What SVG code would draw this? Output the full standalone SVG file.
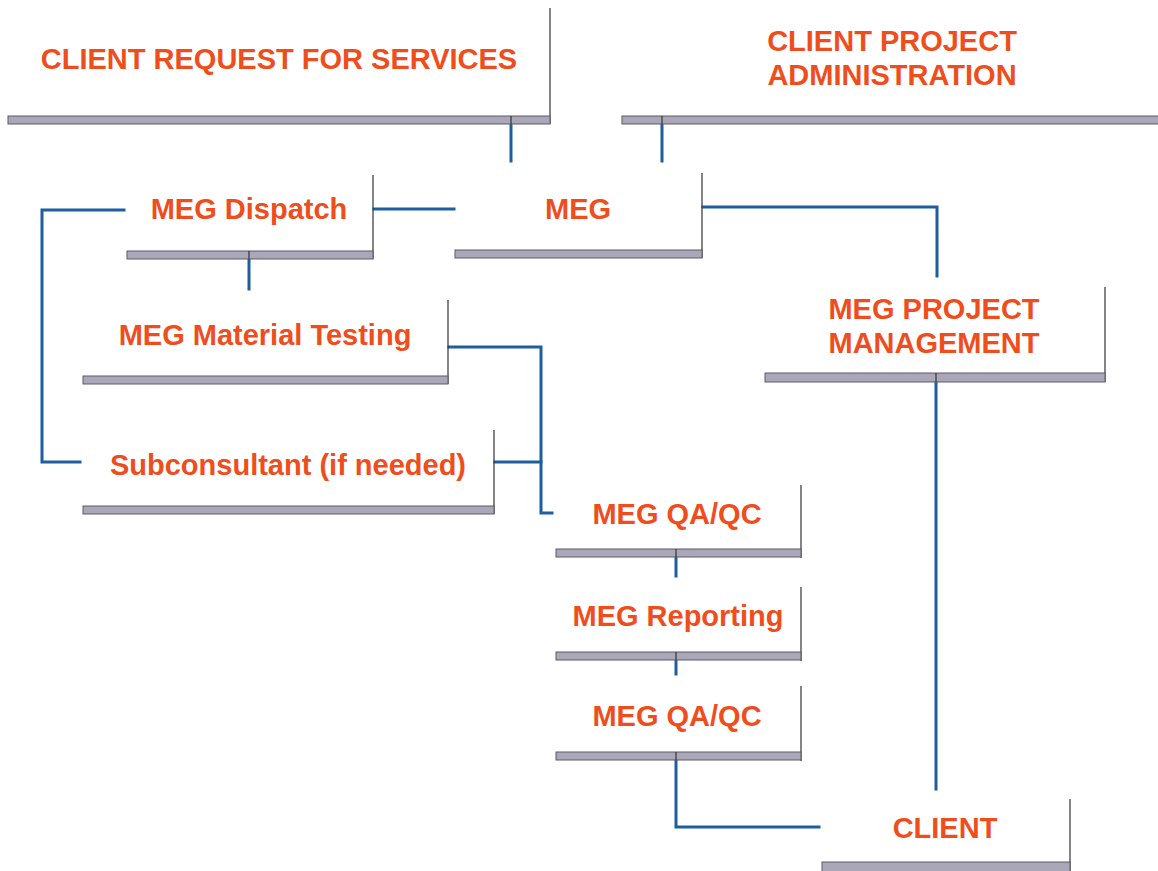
<svg xmlns="http://www.w3.org/2000/svg" width="1158" height="871" viewBox="0 0 1158 871">
<style>
.bg{fill:#ffffff}
.bar{fill:#aaa8b8;stroke:#5a5a66;stroke-width:1}
.edge{stroke:#333333;stroke-width:1.2;fill:none}
.lbl{font-family:"Liberation Sans",Arial,sans-serif;font-weight:bold;font-size:29px;fill:#f04d1c;text-anchor:middle}
.conn{stroke:#1d5f9e;stroke-width:3;fill:none;stroke-linecap:square;stroke-linejoin:miter}
</style>
<rect class="bg" x="0" y="0" width="1158" height="871"/>
<g id="connectors">
<path class="conn" d="M511,125 V161"/>
<path class="conn" d="M662,125 V161"/>
<path class="conn" d="M374,209 H454"/>
<path class="conn" d="M703,207 H937 V276"/>
<path class="conn" d="M124,210 H42 V462 H80"/>
<path class="conn" d="M249,259 V289"/>
<path class="conn" d="M449,347 H541 V513 H552"/>
<path class="conn" d="M495,462 H541"/>
<path class="conn" d="M676,558 V576"/>
<path class="conn" d="M676,661 V674"/>
<path class="conn" d="M676,761 V827 H819"/>
<path class="conn" d="M936,383 V789"/>
</g>
<g id="node-client-request">
<path class="edge" d="M550,8 V124"/>
<rect class="bar" x="8" y="116" width="542" height="8"/>
<path class="edge" d="M511,116 V124" stroke-width="2"/>
<text class="lbl" x="279" y="69">CLIENT REQUEST FOR SERVICES</text>
</g>
<g id="node-client-admin">
<rect class="bar" x="622" y="116" width="540" height="8"/>
<path class="edge" d="M662,116 V124" stroke-width="2"/>
<text class="lbl" x="892" y="51">CLIENT PROJECT</text>
<text class="lbl" x="892" y="85">ADMINISTRATION</text>
</g>
<g id="node-dispatch">
<path class="edge" d="M373,175 V259"/>
<rect class="bar" x="127" y="251" width="246" height="8"/>
<path class="edge" d="M249,251 V259" stroke-width="2"/>
<text class="lbl" x="249" y="219">MEG Dispatch</text>
</g>
<g id="node-meg">
<path class="edge" d="M702,173 V258"/>
<rect class="bar" x="455" y="250" width="247" height="8"/>
<text class="lbl" x="578" y="219">MEG</text>
</g>
<g id="node-material-testing">
<path class="edge" d="M448,300 V384"/>
<rect class="bar" x="83" y="376" width="365" height="8"/>
<text class="lbl" x="265" y="345">MEG Material Testing</text>
</g>
<g id="node-subconsultant">
<path class="edge" d="M494,430 V514"/>
<rect class="bar" x="83" y="506" width="411" height="8"/>
<text class="lbl" x="288" y="475">Subconsultant (if needed)</text>
</g>
<g id="node-qaqc1">
<path class="edge" d="M801,485 V558"/>
<rect class="bar" x="556" y="549" width="245" height="8"/>
<path class="edge" d="M676,549 V557" stroke-width="2"/>
<text class="lbl" x="677" y="524">MEG QA/QC</text>
</g>
<g id="node-reporting">
<path class="edge" d="M801,587 V661"/>
<rect class="bar" x="556" y="652" width="245" height="8"/>
<path class="edge" d="M676,652 V660" stroke-width="2"/>
<text class="lbl" x="678" y="626">MEG Reporting</text>
</g>
<g id="node-qaqc2">
<path class="edge" d="M801,686 V761"/>
<rect class="bar" x="556" y="752" width="245" height="8"/>
<path class="edge" d="M676,752 V760" stroke-width="2"/>
<text class="lbl" x="677" y="726">MEG QA/QC</text>
</g>
<g id="node-project-mgmt">
<path class="edge" d="M1105,287 V382"/>
<rect class="bar" x="765" y="373" width="340" height="9"/>
<path class="edge" d="M936,373 V382" stroke-width="2"/>
<text class="lbl" x="934" y="319">MEG PROJECT</text>
<text class="lbl" x="934" y="353">MANAGEMENT</text>
</g>
<g id="node-client">
<path class="edge" d="M1070,799 V871"/>
<rect class="bar" x="822" y="862" width="248" height="10"/>
<text class="lbl" x="945" y="838">CLIENT</text>
</g>
</svg>
